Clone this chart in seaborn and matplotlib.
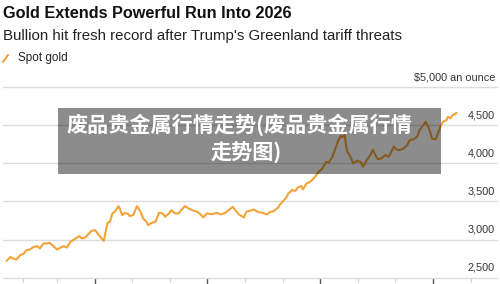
import pandas as pd
import matplotlib
matplotlib.use('Agg')
import matplotlib.pyplot as plt
import matplotlib.dates as mdates
from matplotlib.patches import Rectangle
from matplotlib.lines import Line2D
import seaborn as sns

# spot gold, USD per ounce
dates = [
    '2025-01-19', '2025-01-22', '2025-01-24', '2025-01-27', '2025-01-30',
    '2025-02-02', '2025-02-04', '2025-02-07', '2025-02-10', '2025-02-13',
    '2025-02-15', '2025-02-18', '2025-02-21', '2025-02-23', '2025-02-26',
    '2025-03-01', '2025-03-04', '2025-03-06', '2025-03-09', '2025-03-12',
    '2025-03-14', '2025-03-19', '2025-03-21', '2025-03-24', '2025-03-27',
    '2025-03-29', '2025-04-01', '2025-04-04', '2025-04-08', '2025-04-11',
    '2025-04-13', '2025-04-15', '2025-04-17', '2025-04-20', '2025-04-21',
    '2025-04-23', '2025-04-25', '2025-04-28', '2025-04-29', '2025-05-02',
    '2025-05-05', '2025-05-08', '2025-05-10', '2025-05-13', '2025-05-14',
    '2025-05-17', '2025-05-20', '2025-05-23', '2025-05-26', '2025-05-28',
    '2025-05-31', '2025-06-02', '2025-06-05', '2025-06-08', '2025-06-10',
    '2025-06-13', '2025-06-16', '2025-06-19', '2025-06-23', '2025-06-25',
    '2025-06-28', '2025-07-01', '2025-07-05', '2025-07-09', '2025-07-12',
    '2025-07-16', '2025-07-18', '2025-07-22', '2025-07-24', '2025-07-27',
    '2025-07-31', '2025-08-02', '2025-08-05', '2025-08-08', '2025-08-11',
    '2025-08-15', '2025-08-19', '2025-08-21', '2025-08-24', '2025-08-26',
    '2025-08-28', '2025-08-29', '2025-09-01', '2025-09-04', '2025-09-05',
    '2025-09-07', '2025-09-08', '2025-09-11', '2025-09-13', '2025-09-16',
    '2025-09-17', '2025-09-20', '2025-09-23', '2025-09-25', '2025-09-28',
    '2025-09-30', '2025-10-03', '2025-10-06', '2025-10-08', '2025-10-11',
    '2025-10-13', '2025-10-16', '2025-10-18', '2025-10-19', '2025-10-21',
    '2025-10-23', '2025-10-25', '2025-10-28', '2025-10-31', '2025-11-03',
    '2025-11-05', '2025-11-08', '2025-11-11', '2025-11-13', '2025-11-15',
    '2025-11-17', '2025-11-20', '2025-11-23', '2025-11-26', '2025-11-28',
    '2025-11-30', '2025-12-02', '2025-12-05', '2025-12-08', '2025-12-11',
    '2025-12-13', '2025-12-16', '2025-12-19', '2025-12-21', '2025-12-24',
    '2025-12-26', '2025-12-28', '2025-12-30', '2025-12-31', '2026-01-03',
    '2026-01-05', '2026-01-07', '2026-01-09', '2026-01-12', '2026-01-13',
    '2026-01-15', '2026-01-17', '2026-01-19', '2026-01-20',
]
prices = [
    2720, 2773, 2752, 2739, 2795,
    2817, 2861, 2870, 2904, 2913,
    2883, 2949, 2949, 2957, 2913,
    2870, 2896, 2913, 2896, 2970,
    2992, 3045, 3015, 3028, 3080,
    3114, 3123, 3058, 2983, 3219,
    3232, 3342, 3364, 3438, 3408,
    3320, 3350, 3333, 3310, 3320,
    3438, 3364, 3277, 3232, 3189,
    3219, 3232, 3350, 3342, 3298,
    3342, 3386, 3342, 3342, 3386,
    3438, 3408, 3386, 3364, 3342,
    3290, 3342, 3333, 3350, 3329,
    3350, 3377, 3429, 3386, 3329,
    3290, 3364, 3377, 3395, 3364,
    3350, 3329, 3360, 3370, 3395,
    3420, 3451, 3505, 3560, 3604,
    3626, 3648, 3639, 3684, 3701,
    3657, 3736, 3757, 3789, 3845,
    3889, 3933, 4020, 4007, 4085,
    4173, 4304, 4357, 4340, 4370,
    4151, 4108, 3999, 4033, 4020,
    3954, 4042, 4108, 4178, 4108,
    4053, 4064, 4108, 4085, 4151,
    4217, 4182, 4173, 4195, 4239,
    4304, 4313, 4348, 4435, 4501,
    4544, 4479, 4392, 4326, 4313,
    4392, 4479, 4544, 4567, 4610,
    4588, 4632, 4645, 4662,
]
y_ticks = [2500, 3000, 3500, 4000, 4500, 5000]
y_labels = ['2,500', '3,000', '3,500', '4,000', '4,500', '$5,000 an ounce']

title = 'Gold Extends Powerful Run Into 2026'
subtitle = "Bullion hit fresh record after Trump's Greenland tariff threats"
series_name = 'Spot gold'
overlay_lines = ['废品贵金属行情走势(废品贵金属行情', '走势图)']

gold = '#F2A33A'

sns.set_style('white')
plt.rcParams['font.family'] = ['Liberation Sans', 'DejaVu Sans']

df = pd.DataFrame({'date': pd.to_datetime(dates), 'price': prices})

fig = plt.figure(figsize=(5, 2.84), dpi=100)
ax = fig.add_axes([0.006, 0.0222, 0.988, 0.6715])

sns.lineplot(data=df, x='date', y='price', color=gold, linewidth=1.5, ax=ax, zorder=3)

ax.set_xlim(pd.Timestamp('2025-01-16'), pd.Timestamp('2026-02-22'))
ax.set_ylim(2500, 5000)
ax.set_xlabel('')
ax.set_ylabel('')
for s in ax.spines.values():
    s.set_visible(False)

# horizontal grid lines + labels sitting above them on the right
for v, lab in zip(y_ticks, y_labels):
    ax.axhline(v, color='#dcdcdc', linewidth=1, zorder=1, clip_on=False)
    ax.annotate(lab, xy=(1.0, v), xycoords=ax.get_yaxis_transform(),
                xytext=(-1.5, 3.5), textcoords='offset points',
                ha='right', va='bottom', fontsize=7.8, color='#333333')
ax.set_yticks([])

ax.xaxis.set_major_locator(mdates.MonthLocator(bymonth=[1, 4, 7, 10]))
ax.xaxis.set_minor_locator(mdates.MonthLocator())
ax.tick_params(axis='x', which='major', direction='out', length=5, width=1,
               color='#555555', labelbottom=False, bottom=True)
ax.tick_params(axis='x', which='minor', direction='out', length=3, width=0.8,
               color='#cccccc', bottom=True)

# header
fig.text(0.006, 1 - 14 / 284, title, fontsize=11.7, fontweight='bold',
         color='#111111', va='center', ha='left')
fig.text(0.006, 1 - 36 / 284, subtitle, fontsize=10.8, color='#222222',
         va='center', ha='left')
fig.add_artist(Line2D([3 / 500, 8 / 500], [1 - 62 / 284, 1 - 55 / 284],
                      color=gold, linewidth=1.5, transform=fig.transFigure))
fig.text(18 / 500, 1 - 58.5 / 284, series_name, fontsize=8.5, color='#222222',
         va='center', ha='left')

# watermark overlay
fig.add_artist(Rectangle((58 / 500, 1 - 174 / 284), 383 / 500, 66 / 284,
                         transform=fig.transFigure, facecolor='black',
                         alpha=0.45, edgecolor='none', zorder=10))
cjk = ['Noto Sans CJK SC', 'DejaVu Sans']
fig.text(239 / 500, 1 - 125 / 284, overlay_lines[0], fontsize=15.2,
         fontweight='bold', color='white', ha='center', va='center',
         family=cjk, zorder=11)
fig.text(246 / 500, 1 - 153 / 284, overlay_lines[1], fontsize=15.2,
         fontweight='bold', color='white', ha='center', va='center',
         family=cjk, zorder=11)

fig.savefig('out.png', dpi=100)
